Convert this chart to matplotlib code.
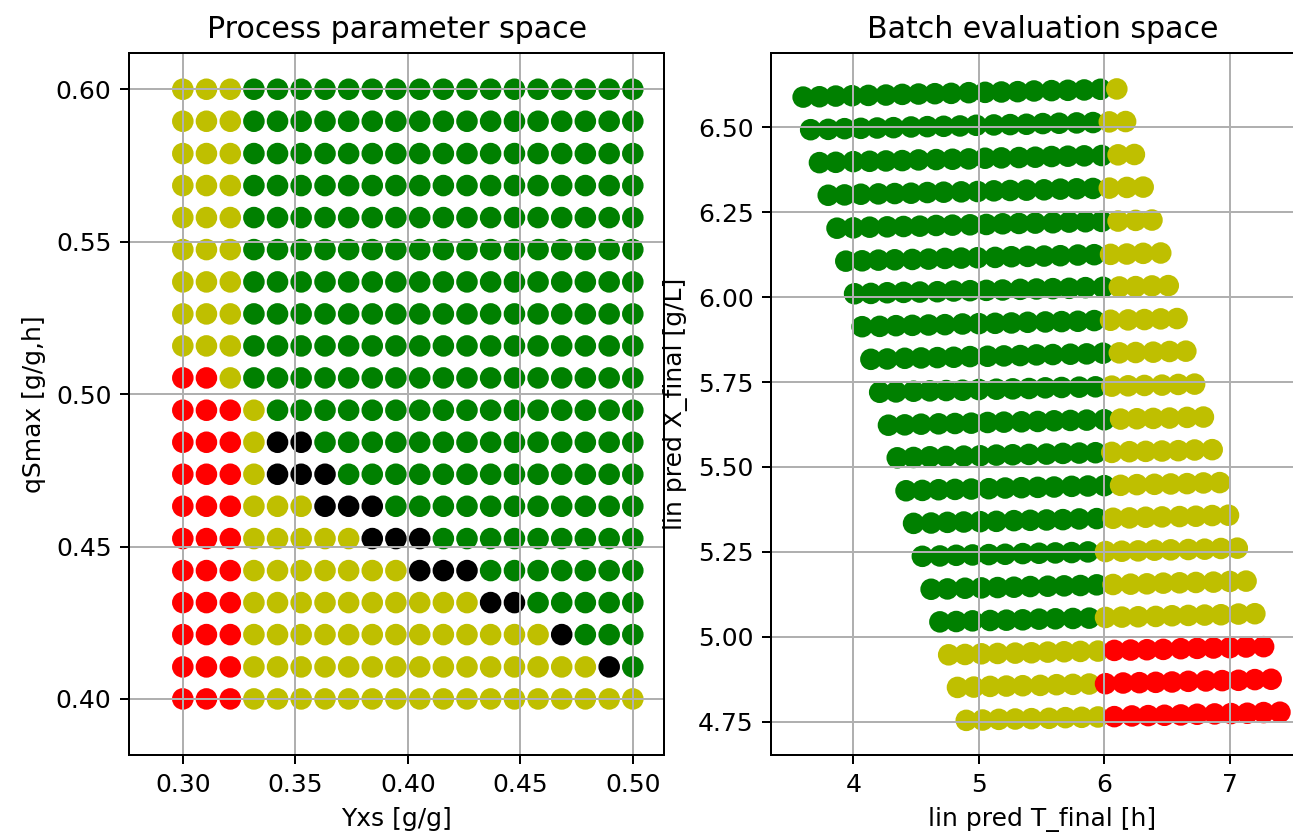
import numpy as np
import matplotlib.pyplot as plt

# process parameter grid (columns: Yxs, rows: qSmax from top to bottom)
yxs = [0.3000, 0.3105, 0.3211, 0.3316, 0.3421, 0.3526, 0.3632, 0.3737, 0.3842, 0.3947,
       0.4053, 0.4158, 0.4263, 0.4368, 0.4474, 0.4579, 0.4684, 0.4789, 0.4895, 0.5000]
qsmax = [0.6000, 0.5895, 0.5789, 0.5684, 0.5579, 0.5474, 0.5368, 0.5263, 0.5158, 0.5053,
         0.4947, 0.4842, 0.4737, 0.4632, 0.4526, 0.4421, 0.4316, 0.4211, 0.4105, 0.4000]

# batch class per grid point, one string per qSmax row, one letter per Yxs column
param_class = [
    "yyyggggggggggggggggg",
    "yyyggggggggggggggggg",
    "yyyggggggggggggggggg",
    "yyyggggggggggggggggg",
    "yyyggggggggggggggggg",
    "yyyggggggggggggggggg",
    "yyyggggggggggggggggg",
    "yyyggggggggggggggggg",
    "yyyggggggggggggggggg",
    "rryggggggggggggggggg",
    "rrrygggggggggggggggg",
    "rrrykkgggggggggggggg",
    "rrrykkkggggggggggggg",
    "rrryyykkkggggggggggg",
    "rrryyyyykkkggggggggg",
    "rrryyyyyyykkkggggggg",
    "rrryyyyyyyyyykkggggg",
    "rrryyyyyyyyyyyyykggg",
    "rrryyyyyyyyyyyyyyykg",
    "rrryyyyyyyyyyyyyyyyy",
]

# linear predictions, one row per Yxs value, entries in the qsmax order above
t_final = [
    [4.90, 5.03, 5.16, 5.29, 5.42, 5.56, 5.69, 5.82, 5.95, 6.08, 6.22, 6.35, 6.48, 6.61, 6.74, 6.88, 7.01, 7.14, 7.27, 7.40],
    [4.83, 4.96, 5.09, 5.22, 5.35, 5.49, 5.62, 5.75, 5.88, 6.01, 6.15, 6.28, 6.41, 6.54, 6.67, 6.81, 6.94, 7.07, 7.20, 7.33],
    [4.76, 4.89, 5.02, 5.15, 5.29, 5.42, 5.55, 5.68, 5.81, 5.95, 6.08, 6.21, 6.34, 6.47, 6.61, 6.74, 6.87, 7.00, 7.13, 7.27],
    [4.69, 4.82, 4.95, 5.09, 5.22, 5.35, 5.48, 5.61, 5.75, 5.88, 6.01, 6.14, 6.27, 6.41, 6.54, 6.67, 6.80, 6.93, 7.07, 7.20],
    [4.62, 4.75, 4.89, 5.02, 5.15, 5.28, 5.41, 5.55, 5.68, 5.81, 5.94, 6.07, 6.21, 6.34, 6.47, 6.60, 6.73, 6.87, 7.00, 7.13],
    [4.55, 4.69, 4.82, 4.95, 5.08, 5.21, 5.35, 5.48, 5.61, 5.74, 5.87, 6.01, 6.14, 6.27, 6.40, 6.53, 6.67, 6.80, 6.93, 7.06],
    [4.48, 4.62, 4.75, 4.88, 5.01, 5.14, 5.28, 5.41, 5.54, 5.67, 5.80, 5.94, 6.07, 6.20, 6.33, 6.46, 6.60, 6.73, 6.86, 6.99],
    [4.42, 4.55, 4.68, 4.81, 4.94, 5.08, 5.21, 5.34, 5.47, 5.60, 5.74, 5.87, 6.00, 6.13, 6.26, 6.40, 6.53, 6.66, 6.79, 6.92],
    [4.35, 4.48, 4.61, 4.74, 4.88, 5.01, 5.14, 5.27, 5.40, 5.54, 5.67, 5.80, 5.93, 6.06, 6.20, 6.33, 6.46, 6.59, 6.72, 6.86],
    [4.28, 4.41, 4.54, 4.68, 4.81, 4.94, 5.07, 5.20, 5.34, 5.47, 5.60, 5.73, 5.86, 6.00, 6.13, 6.26, 6.39, 6.52, 6.66, 6.79],
    [4.21, 4.34, 4.48, 4.61, 4.74, 4.87, 5.00, 5.14, 5.27, 5.40, 5.53, 5.66, 5.80, 5.93, 6.06, 6.19, 6.32, 6.46, 6.59, 6.72],
    [4.14, 4.27, 4.41, 4.54, 4.67, 4.80, 4.93, 5.07, 5.20, 5.33, 5.46, 5.59, 5.73, 5.86, 5.99, 6.12, 6.25, 6.39, 6.52, 6.65],
    [4.07, 4.21, 4.34, 4.47, 4.60, 4.73, 4.87, 5.00, 5.13, 5.26, 5.39, 5.53, 5.66, 5.79, 5.92, 6.05, 6.19, 6.32, 6.45, 6.58],
    [4.01, 4.14, 4.27, 4.40, 4.53, 4.67, 4.80, 4.93, 5.06, 5.19, 5.33, 5.46, 5.59, 5.72, 5.85, 5.99, 6.12, 6.25, 6.38, 6.51],
    [3.94, 4.07, 4.20, 4.33, 4.47, 4.60, 4.73, 4.86, 4.99, 5.13, 5.26, 5.39, 5.52, 5.65, 5.79, 5.92, 6.05, 6.18, 6.31, 6.45],
    [3.87, 4.00, 4.13, 4.27, 4.40, 4.53, 4.66, 4.79, 4.93, 5.06, 5.19, 5.32, 5.45, 5.59, 5.72, 5.85, 5.98, 6.11, 6.25, 6.38],
    [3.80, 3.93, 4.06, 4.20, 4.33, 4.46, 4.59, 4.72, 4.86, 4.99, 5.12, 5.25, 5.38, 5.52, 5.65, 5.78, 5.91, 6.04, 6.18, 6.31],
    [3.73, 3.86, 4.00, 4.13, 4.26, 4.39, 4.52, 4.66, 4.79, 4.92, 5.05, 5.18, 5.32, 5.45, 5.58, 5.71, 5.84, 5.98, 6.11, 6.24],
    [3.66, 3.80, 3.93, 4.06, 4.19, 4.32, 4.46, 4.59, 4.72, 4.85, 4.98, 5.12, 5.25, 5.38, 5.51, 5.64, 5.78, 5.91, 6.04, 6.17],
    [3.60, 3.73, 3.86, 3.99, 4.12, 4.26, 4.39, 4.52, 4.65, 4.78, 4.92, 5.05, 5.18, 5.31, 5.44, 5.58, 5.71, 5.84, 5.97, 6.10],
]

x_final = [
    [4.754, 4.755, 4.757, 4.758, 4.759, 4.760, 4.762, 4.763, 4.764, 4.765, 4.767, 4.768, 4.769, 4.770, 4.772, 4.773, 4.774, 4.775, 4.777, 4.778],
    [4.851, 4.852, 4.854, 4.855, 4.856, 4.857, 4.859, 4.860, 4.861, 4.862, 4.864, 4.865, 4.866, 4.867, 4.869, 4.870, 4.871, 4.872, 4.874, 4.875],
    [4.947, 4.948, 4.950, 4.951, 4.952, 4.953, 4.955, 4.956, 4.957, 4.958, 4.960, 4.961, 4.962, 4.963, 4.965, 4.966, 4.967, 4.968, 4.970, 4.971],
    [5.044, 5.045, 5.047, 5.048, 5.049, 5.050, 5.052, 5.053, 5.054, 5.055, 5.057, 5.058, 5.059, 5.060, 5.062, 5.063, 5.064, 5.065, 5.067, 5.068],
    [5.140, 5.141, 5.143, 5.144, 5.145, 5.146, 5.148, 5.149, 5.150, 5.151, 5.153, 5.154, 5.155, 5.156, 5.158, 5.159, 5.160, 5.161, 5.163, 5.164],
    [5.237, 5.238, 5.240, 5.241, 5.242, 5.243, 5.245, 5.246, 5.247, 5.248, 5.250, 5.251, 5.252, 5.253, 5.255, 5.256, 5.257, 5.258, 5.260, 5.261],
    [5.334, 5.335, 5.337, 5.338, 5.339, 5.340, 5.342, 5.343, 5.344, 5.345, 5.347, 5.348, 5.349, 5.350, 5.352, 5.353, 5.354, 5.355, 5.357, 5.358],
    [5.430, 5.431, 5.433, 5.434, 5.435, 5.436, 5.438, 5.439, 5.440, 5.441, 5.443, 5.444, 5.445, 5.446, 5.448, 5.449, 5.450, 5.451, 5.453, 5.454],
    [5.527, 5.528, 5.530, 5.531, 5.532, 5.533, 5.535, 5.536, 5.537, 5.538, 5.540, 5.541, 5.542, 5.543, 5.545, 5.546, 5.547, 5.548, 5.550, 5.551],
    [5.623, 5.624, 5.626, 5.627, 5.628, 5.629, 5.631, 5.632, 5.633, 5.634, 5.636, 5.637, 5.638, 5.639, 5.641, 5.642, 5.643, 5.644, 5.646, 5.647],
    [5.720, 5.721, 5.723, 5.724, 5.725, 5.726, 5.728, 5.729, 5.730, 5.731, 5.733, 5.734, 5.735, 5.736, 5.738, 5.739, 5.740, 5.741, 5.743, 5.744],
    [5.817, 5.818, 5.820, 5.821, 5.822, 5.823, 5.825, 5.826, 5.827, 5.828, 5.830, 5.831, 5.832, 5.833, 5.835, 5.836, 5.837, 5.838, 5.840, 5.841],
    [5.913, 5.914, 5.916, 5.917, 5.918, 5.919, 5.921, 5.922, 5.923, 5.924, 5.926, 5.927, 5.928, 5.929, 5.931, 5.932, 5.933, 5.934, 5.936, 5.937],
    [6.010, 6.011, 6.013, 6.014, 6.015, 6.016, 6.018, 6.019, 6.020, 6.021, 6.023, 6.024, 6.025, 6.026, 6.028, 6.029, 6.030, 6.031, 6.033, 6.034],
    [6.106, 6.107, 6.109, 6.110, 6.111, 6.112, 6.114, 6.115, 6.116, 6.117, 6.119, 6.120, 6.121, 6.122, 6.124, 6.125, 6.126, 6.127, 6.129, 6.130],
    [6.203, 6.204, 6.206, 6.207, 6.208, 6.209, 6.211, 6.212, 6.213, 6.214, 6.216, 6.217, 6.218, 6.219, 6.221, 6.222, 6.223, 6.224, 6.226, 6.227],
    [6.300, 6.301, 6.303, 6.304, 6.305, 6.306, 6.308, 6.309, 6.310, 6.311, 6.313, 6.314, 6.315, 6.316, 6.318, 6.319, 6.320, 6.321, 6.323, 6.324],
    [6.396, 6.397, 6.399, 6.400, 6.401, 6.402, 6.404, 6.405, 6.406, 6.407, 6.409, 6.410, 6.411, 6.412, 6.414, 6.415, 6.416, 6.417, 6.419, 6.420],
    [6.493, 6.494, 6.496, 6.497, 6.498, 6.499, 6.501, 6.502, 6.503, 6.504, 6.506, 6.507, 6.508, 6.509, 6.511, 6.512, 6.513, 6.514, 6.516, 6.517],
    [6.589, 6.590, 6.592, 6.593, 6.594, 6.595, 6.597, 6.598, 6.599, 6.600, 6.602, 6.603, 6.604, 6.605, 6.607, 6.608, 6.609, 6.610, 6.612, 6.613],
]

# class of each predicted batch, same layout as t_final
eval_class = [
    "yyyyyyyyyrrrrrrrrrrr",
    "yyyyyyyyyrrrrrrrrrrr",
    "yyyyyyyyyyrrrrrrrrrr",
    "ggggggggggyyyyyyyyyy",
    "gggggggggggyyyyyyyyy",
    "gggggggggggyyyyyyyyy",
    "ggggggggggggyyyyyyyy",
    "gggggggggggggyyyyyyy",
    "gggggggggggggyyyyyyy",
    "ggggggggggggggyyyyyy",
    "ggggggggggggggyyyyyy",
    "gggggggggggggggyyyyy",
    "gggggggggggggggyyyyy",
    "ggggggggggggggggyyyy",
    "ggggggggggggggggyyyy",
    "gggggggggggggggggyyy",
    "gggggggggggggggggyyy",
    "ggggggggggggggggggyy",
    "ggggggggggggggggggyy",
    "gggggggggggggggggggy",
]

dpi = 180
fig = plt.figure(figsize=(1293 / dpi, 839 / dpi), dpi=dpi)
ax1 = fig.add_axes([0.0998, 0.1001, 0.4138, 0.8364])
ax2 = fig.add_axes([0.5963, 0.1001, 0.4200, 0.8364])

for i, q in enumerate(qsmax):
    ax1.scatter(yxs, [q] * len(yxs), c=list(param_class[i]), s=58)
ax1.set_xlim(0.2761, 0.5139)
ax1.set_ylim(0.3816, 0.6118)
ax1.set_xticks([0.30, 0.35, 0.40, 0.45, 0.50])
ax1.set_yticks([0.40, 0.45, 0.50, 0.55, 0.60])
ax1.set_xlabel("Yxs [g/g]")
ax1.set_ylabel("qSmax [g/g,h]")
ax1.set_title("Process parameter space")
ax1.grid(True)

for j in range(len(yxs)):
    ax2.scatter(t_final[j], x_final[j], c=list(eval_class[j]), s=58)
ax2.set_xlim(3.344, 7.672)
ax2.set_ylim(4.652, 6.718)
ax2.set_xticks([4, 5, 6, 7])
ax2.set_yticks([4.75, 5.00, 5.25, 5.50, 5.75, 6.00, 6.25, 6.50])
ax2.set_xlabel("lin pred T_final [h]")
ax2.set_ylabel("lin pred X_final [g/L]")
ax2.set_title("Batch evaluation space")
ax2.grid(True)

fig.savefig("out.png", dpi=dpi)
